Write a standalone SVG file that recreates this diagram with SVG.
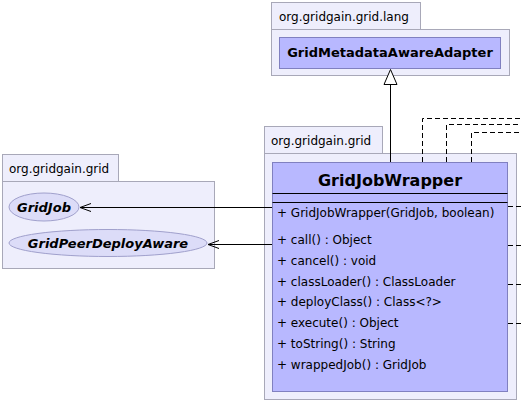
<svg xmlns="http://www.w3.org/2000/svg" width="521" height="401" viewBox="0 0 521 401">
<style>
.pkg{fill:#eeeefc;stroke:#a8a8b8;stroke-width:1}
.cls{fill:#b8b8ff;stroke:#8080c0;stroke-width:1}
.ell{fill:#dcdcf8;stroke:#a0a0cc;stroke-width:1}
.t{font-family:"DejaVu Sans",sans-serif;font-size:12px;fill:#000}
.b{font-weight:bold;font-size:13px}
.bi{font-weight:bold;font-style:italic;font-size:13px}
.ln{stroke:#000;stroke-width:1;fill:none}
.dl{stroke:#000;stroke-width:1;fill:none;stroke-dasharray:5,3}
</style>
<defs>
<marker id="open" markerWidth="12" markerHeight="10" refX="11" refY="5" orient="auto" markerUnits="userSpaceOnUse">
<path d="M0,1 L11,5 L0,9" fill="none" stroke="#000" stroke-width="1"/>
</marker>
</defs>
<rect width="521" height="401" fill="#fff"/>
<g id="pkg-lang">
<rect class="pkg" x="271.5" y="2.5" width="149" height="27"/>
<rect class="pkg" x="271.5" y="29.5" width="238" height="46"/>
<text class="t" x="279" y="21">org.gridgain.grid.lang</text>
</g>
<g id="GridMetadataAwareAdapter">
<rect class="cls" x="279.5" y="37.5" width="221" height="31"/>
<text class="t b" x="390" y="57" text-anchor="middle">GridMetadataAwareAdapter</text>
</g>
<g id="pkg-grid-left">
<rect class="pkg" x="2.5" y="154.5" width="116" height="27"/>
<rect class="pkg" x="2.5" y="181.5" width="212" height="87"/>
<text class="t" x="9" y="173">org.gridgain.grid</text>
</g>
<g id="GridJob">
<ellipse class="ell" cx="44" cy="207" rx="35" ry="14"/>
<text class="t bi" x="44" y="211.5" text-anchor="middle">GridJob</text>
</g>
<g id="GridPeerDeployAware">
<ellipse class="ell" cx="108" cy="243" rx="99" ry="13.5"/>
<text class="t bi" x="108" y="247.5" text-anchor="middle">GridPeerDeployAware</text>
</g>
<g id="pkg-grid">
<rect class="pkg" x="264.5" y="126.5" width="118" height="27"/>
<rect class="pkg" x="264.5" y="153.5" width="252" height="246"/>
<text class="t" x="271" y="145">org.gridgain.grid</text>
</g>
<g id="GridJobWrapper">
<rect class="cls" x="272.5" y="162.5" width="235" height="229"/>
<text class="t" x="390" y="186" text-anchor="middle" style="font-size:16px;font-weight:bold">GridJobWrapper</text>
<line class="ln" x1="272.5" y1="193.5" x2="507.5" y2="193.5"/>
<line class="ln" x1="272.5" y1="202.5" x2="507.5" y2="202.5"/>
<text class="t" x="277" y="217">+ GridJobWrapper(GridJob, boolean)</text>
<text class="t" x="277" y="244">+ call() : Object</text>
<text class="t" x="277" y="265">+ cancel() : void</text>
<text class="t" x="277" y="286">+ classLoader() : ClassLoader</text>
<text class="t" x="277" y="306">+ deployClass() : Class&lt;?&gt;</text>
<text class="t" x="277" y="327">+ execute() : Object</text>
<text class="t" x="277" y="348">+ toString() : String</text>
<text class="t" x="277" y="369">+ wrappedJob() : GridJob</text>
</g>
<g id="connectors">
<line class="ln" x1="390.5" y1="162" x2="390.5" y2="84"/>
<path d="M390.5,69.5 L397,84.5 L384,84.5 Z" fill="#fff" stroke="#000" stroke-width="1"/>
<line class="ln" x1="272" y1="207.5" x2="80" y2="207.5" marker-end="url(#open)"/>
<line class="ln" x1="272" y1="244.5" x2="208" y2="244.5" marker-end="url(#open)"/>
<path class="dl" d="M422.5,162 V118.5 H521"/>
<path class="dl" d="M446.5,162 V124.5 H521"/>
<path class="dl" d="M471.5,162 V132.5 H521"/>
<line class="dl" x1="508" y1="206.5" x2="521" y2="206.5"/>
<line class="dl" x1="508" y1="245.5" x2="521" y2="245.5"/>
<line class="dl" x1="508" y1="284.5" x2="521" y2="284.5"/>
<line class="dl" x1="508" y1="323.5" x2="521" y2="323.5"/>
</g>
</svg>
